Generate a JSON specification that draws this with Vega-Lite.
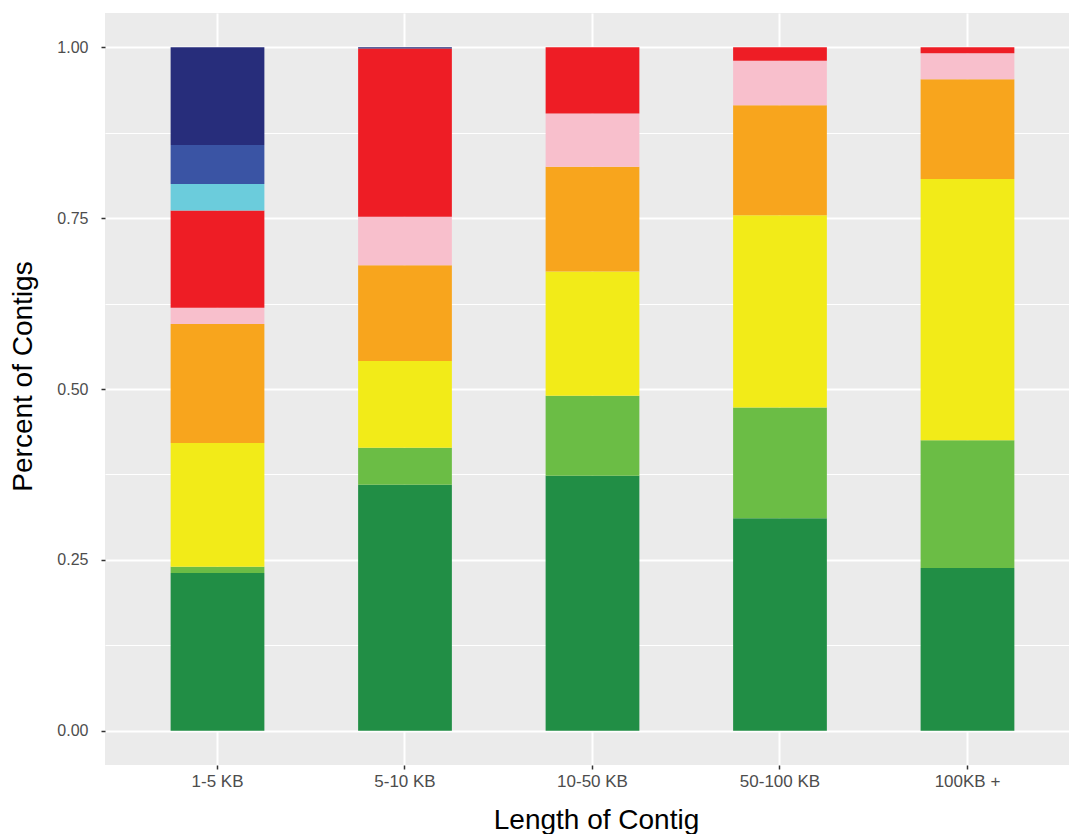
{
  "$schema": "https://vega.github.io/schema/vega-lite/v6.json",
  "width": 964,
  "height": 752,
  "autosize": {"type": "none"},
  "padding": {"left": 105, "top": 13, "right": 0, "bottom": 69},
  "background": "white",
  "config": {
    "view": {"fill": "#EBEBEB", "stroke": null},
    "font": "Liberation Sans",
    "axis": {
      "labelFont": "Liberation Sans",
      "titleFont": "Liberation Sans",
      "titleFontWeight": "normal",
      "labelColor": "#4D4D4D",
      "titleColor": "#000000",
      "gridColor": "#FFFFFF",
      "tickColor": "#333333",
      "domain": false
    }
  },
  "data": {
    "values": [
      {"length": "1-5 KB", "group": "Group 1", "fraction": 0.231},
      {"length": "1-5 KB", "group": "Group 2", "fraction": 0.009},
      {"length": "1-5 KB", "group": "Group 3", "fraction": 0.181},
      {"length": "1-5 KB", "group": "Group 4", "fraction": 0.174},
      {"length": "1-5 KB", "group": "Group 5", "fraction": 0.024},
      {"length": "1-5 KB", "group": "Group 6", "fraction": 0.142},
      {"length": "1-5 KB", "group": "Group 7", "fraction": 0.039},
      {"length": "1-5 KB", "group": "Group 8", "fraction": 0.057},
      {"length": "1-5 KB", "group": "Group 9", "fraction": 0.143},
      {"length": "5-10 KB", "group": "Group 1", "fraction": 0.360},
      {"length": "5-10 KB", "group": "Group 2", "fraction": 0.054},
      {"length": "5-10 KB", "group": "Group 3", "fraction": 0.127},
      {"length": "5-10 KB", "group": "Group 4", "fraction": 0.140},
      {"length": "5-10 KB", "group": "Group 5", "fraction": 0.071},
      {"length": "5-10 KB", "group": "Group 6", "fraction": 0.246},
      {"length": "5-10 KB", "group": "Group 9", "fraction": 0.002},
      {"length": "10-50 KB", "group": "Group 1", "fraction": 0.373},
      {"length": "10-50 KB", "group": "Group 2", "fraction": 0.117},
      {"length": "10-50 KB", "group": "Group 3", "fraction": 0.182},
      {"length": "10-50 KB", "group": "Group 4", "fraction": 0.153},
      {"length": "10-50 KB", "group": "Group 5", "fraction": 0.078},
      {"length": "10-50 KB", "group": "Group 6", "fraction": 0.097},
      {"length": "50-100 KB", "group": "Group 1", "fraction": 0.311},
      {"length": "50-100 KB", "group": "Group 2", "fraction": 0.162},
      {"length": "50-100 KB", "group": "Group 3", "fraction": 0.281},
      {"length": "50-100 KB", "group": "Group 4", "fraction": 0.161},
      {"length": "50-100 KB", "group": "Group 5", "fraction": 0.065},
      {"length": "50-100 KB", "group": "Group 6", "fraction": 0.020},
      {"length": "100KB +", "group": "Group 1", "fraction": 0.238},
      {"length": "100KB +", "group": "Group 2", "fraction": 0.187},
      {"length": "100KB +", "group": "Group 3", "fraction": 0.382},
      {"length": "100KB +", "group": "Group 4", "fraction": 0.146},
      {"length": "100KB +", "group": "Group 5", "fraction": 0.038},
      {"length": "100KB +", "group": "Group 6", "fraction": 0.009}
    ]
  },
  "mark": {"type": "bar", "stroke": null},
  "encoding": {
    "x": {
      "field": "length",
      "type": "nominal",
      "sort": ["1-5 KB", "5-10 KB", "10-50 KB", "50-100 KB", "100KB +"],
      "scale": {"paddingInner": 0.5, "paddingOuter": 0.3207, "align": 0.5457},
      "axis": {
        "title": "Length of Contig",
        "titleFontSize": 28,
        "titleX": 491,
        "titleY": 63,
        "titleBaseline": "alphabetic",
        "titleAnchor": null,
        "labelFontSize": 17,
        "labelAngle": 0,
        "labelPadding": 4,
        "tickSize": 4,
        "tickWidth": 1.5,
        "grid": true,
        "gridWidth": 2,
        "bandPosition": 0.5
      }
    },
    "y": {
      "field": "fraction",
      "type": "quantitative",
      "stack": "zero",
      "scale": {"domain": [-0.05, 1.05], "nice": false, "zero": false},
      "axis": {
        "title": "Percent of Contigs",
        "titleFontSize": 28,
        "titleX": -74,
        "titleY": 363,
        "titleAngle": -90,
        "titleAlign": "center",
        "titleBaseline": "alphabetic",
        "values": [0, 0.125, 0.25, 0.375, 0.5, 0.625, 0.75, 0.875, 1],
        "labelExpr": "datum.value % 0.25 === 0 ? format(datum.value, '.2f') : ''",
        "labelOverlap": false,
        "labelFontSize": 16,
        "labelPadding": 13,
        "tickSize": 4,
        "tickWidth": 1.5,
        "tickOpacity": {"condition": {"test": "datum.value % 0.25 !== 0", "value": 0}, "value": 1},
        "grid": true,
        "gridWidth": {"condition": {"test": "datum.value % 0.25 !== 0", "value": 1}, "value": 2}
      }
    },
    "color": {
      "field": "group",
      "type": "nominal",
      "scale": {
        "domain": ["Group 1", "Group 2", "Group 3", "Group 4", "Group 5", "Group 6", "Group 7", "Group 8", "Group 9"],
        "range": ["#218E45", "#6BBD45", "#F2EB18", "#F8A51D", "#F8BFCC", "#EE1D25", "#6BCCDC", "#3A54A4", "#272D7B"]
      },
      "legend": null
    },
    "order": {"field": "group", "sort": "ascending"}
  }
}
